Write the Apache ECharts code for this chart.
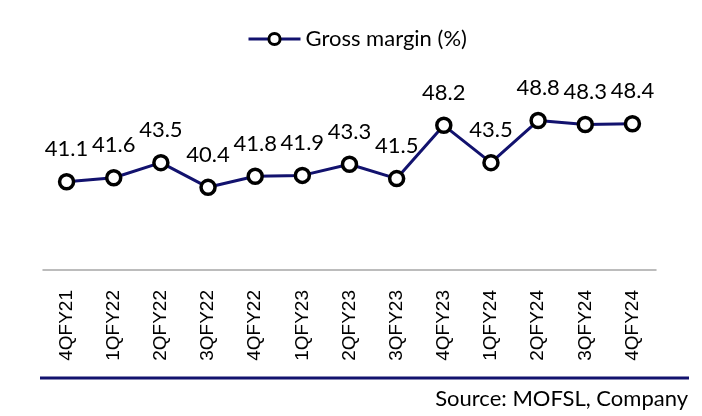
<!DOCTYPE html>
<html>
<head>
<meta charset="utf-8">
<script src="https://cdn.jsdelivr.net/npm/echarts@6/dist/echarts.min.js"></script>
<style>html,body{margin:0;padding:0;background:#fff;}#c{width:702px;height:416px;}</style>
</head>
<body>
<div id="c"></div>
<script>
var categories = ['4QFY21','1QFY22','2QFY22','3QFY22','4QFY22','1QFY23','2QFY23','3QFY23','4QFY23','1QFY24','2QFY24','3QFY24','4QFY24'];
var grossMargin = [41.1, 41.6, 43.5, 40.4, 41.8, 41.9, 43.3, 41.5, 48.2, 43.5, 48.8, 48.3, 48.4];
var seriesName = 'Gross margin (%)';
var sourceText = 'Source: MOFSL, Company';

var chart = echarts.init(document.getElementById('c'), null, {renderer: 'canvas'});
var navy = '#12126e';
chart.setOption({
  animation: false,
  backgroundColor: '#fff',
  legend: {
    left: 242, top: 23,
    itemWidth: 52, itemHeight: 14, itemGap: 10,
    itemStyle: {color: '#fff', borderColor: '#000', borderWidth: 3},
    lineStyle: {color: navy, width: 3},
    textStyle: {fontFamily: 'Lato', fontSize: 22, color: '#000'},
    data: [seriesName]
  },
  grid: {left: 43, right: 46, top: 111, bottom: 146},
  xAxis: {
    type: 'category',
    data: categories,
    boundaryGap: true,
    axisLine: {lineStyle: {color: '#a6a6a6', width: 1.5}},
    axisTick: {show: false},
    axisLabel: {rotate: 90, margin: 20, fontFamily: 'Liberation Sans', fontSize: 19, color: '#000'}
  },
  yAxis: {
    type: 'value', min: 30, max: 50,
    show: false
  },
  series: [{
    name: seriesName,
    type: 'line',
    data: grossMargin,
    symbol: 'circle',
    symbolSize: 14,
    lineStyle: {color: navy, width: 3},
    itemStyle: {color: '#fff', borderColor: '#000', borderWidth: 3.5},
    label: {
      show: true, position: 'top', distance: 13,
      fontFamily: 'Lato', fontSize: 22, lineHeight: 22, color: '#000',
      formatter: function(p){ return p.value.toFixed(1); }
    }
  }],
  graphic: [
    {type: 'line', shape: {x1: 40, y1: 378, x2: 689, y2: 378}, style: {stroke: navy, lineWidth: 3}},
    {type: 'text', right: 14, top: 388, style: {text: sourceText, font: '22px Lato', fill: '#000'}}
  ]
});
</script>
</body>
</html>
